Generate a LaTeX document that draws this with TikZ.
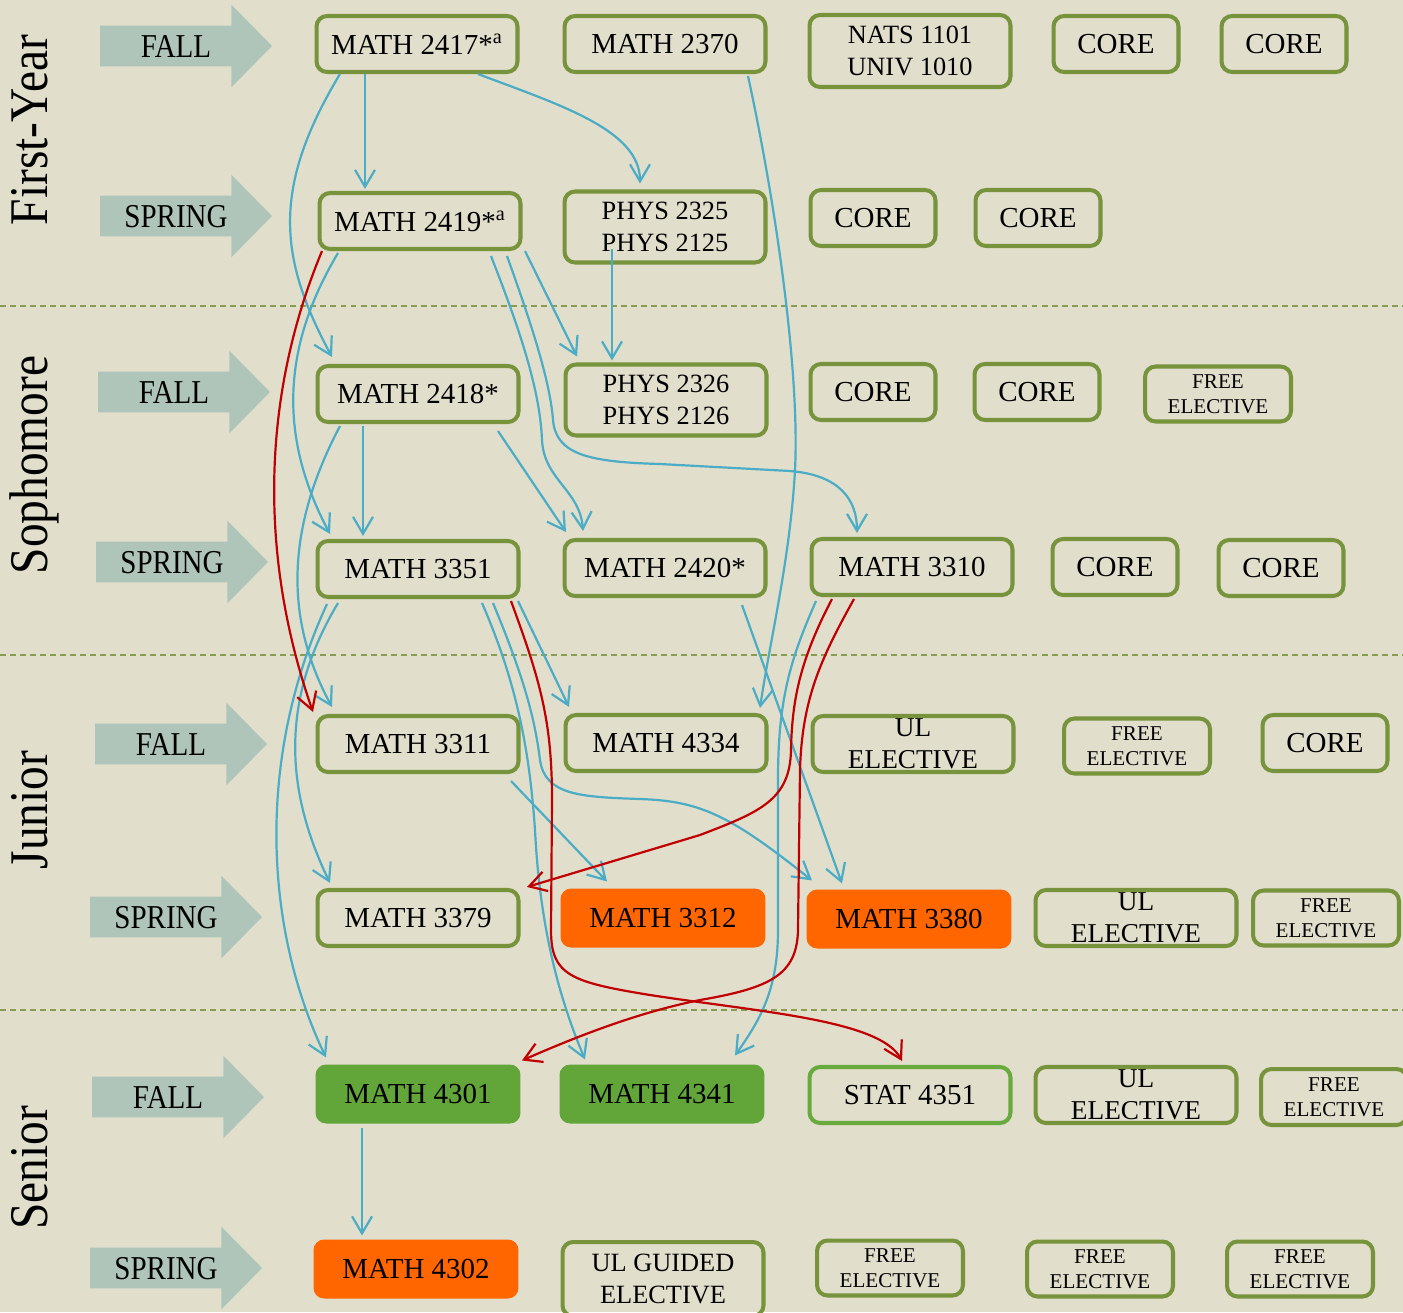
\documentclass[tikz,border=0pt]{standalone}
\usepackage{fontspec}
\setmainfont{Liberation Serif}
\newfontfamily\narrowfont[FakeStretch=0.87]{Liberation Serif}
\usetikzlibrary{shapes.arrows}
\usetikzlibrary{arrows.meta}
\usetikzlibrary{calc}

\definecolor{bgcream}{RGB}{225,222,204}
\definecolor{seasongray}{RGB}{175,197,186}
\definecolor{boxgreen}{RGB}{119,147,60}
\definecolor{lightgreen}{RGB}{104,170,62}
\definecolor{fillgreen}{RGB}{98,165,57}
\definecolor{fillorange}{RGB}{255,102,0}
\definecolor{preblue}{RGB}{75,172,198}
\definecolor{prered}{RGB}{192,0,0}

\tikzset{
  course/.style={draw=boxgreen, line width=2.3pt, rounded corners=6pt, minimum width=4.02cm, minimum height=1.12cm, inner sep=0pt, align=center, font=\fontsize{16.5}{18}\selectfont},
  core/.style={course, minimum width=2.5cm},
  free/.style={course, minimum width=2.92cm, minimum height=1.1cm, font=\fontsize{12}{14.2}\selectfont},
  ul/.style={course, font=\fontsize{15.5}{18.2}\selectfont},
  twoline/.style={course, minimum height=1.42cm, font=\fontsize{15}{18}\selectfont},
  hot/.style={course, draw=none, fill=fillorange, minimum width=4.1cm, minimum height=1.18cm},
  done/.style={course, draw=none, fill=fillgreen, minimum width=4.1cm, minimum height=1.18cm},
  season/.style={single arrow, fill=seasongray, single arrow head extend=0.42cm, single arrow tip angle=91, minimum height=3.44cm, text height=0.45cm, text depth=0cm, inner ysep=0.175cm, inner xsep=0pt, font=\narrowfont\fontsize{19}{19}\selectfont},
  year/.style={rotate=90, anchor=base, font=\narrowfont\fontsize{31}{31}\selectfont},
  term/.style={boxgreen!85!bgcream, line width=0.7pt, dash pattern=on 3.4pt off 2.3pt},
  pre/.style={draw=preblue, line width=1.25pt, -{Straight Barb[length=3.4mm,width=4mm]}},
  req/.style={pre, draw=prered}
}

\begin{document}
\begin{tikzpicture}[x=0.02cm, y=-0.02cm]
    \useasboundingbox (0,0) rectangle (1403,1312);
    \fill[bgcream] (0,0) rectangle (1403,1312);
    \clip (0,0) rectangle (1403,1312);
    \draw[term] (0,306) -- (1403,306);
    \draw[term] (0,655) -- (1403,655);
    \draw[term] (0,1010) -- (1403,1010);

    \node[year] (first) at (47,130) {First-Year};
    \node[year] (soph) at (47,465) {Sophomore};
    \node[year] (junior) at (47,810) {Junior};
    \node[year] (senior) at (47,1168) {Senior};

    \node[season] (fall1) at (176,46) {FALL};
    \node[season] (spring1) at (176,216) {SPRING};
    \node[season] (fall2) at (174,392) {FALL};
    \node[season] (spring2) at (172,562) {SPRING};
    \node[season] (fall3) at (171,744) {FALL};
    \node[season] (spring3) at (166,917) {SPRING};
    \node[season] (fall4) at (168,1097) {FALL};
    \node[season] (spring4) at (166,1268) {SPRING};

    \node[course] (m2417) at (417,44) {MATH 2417*\textsuperscript{a}};
    \node[course] (m2370) at (665,44) {MATH 2370};
    \node[twoline, minimum height=1.44cm] (nats) at (910,51) {NATS 1101\\UNIV 1010};
    \node[core] (core1) at (1116,44) {CORE};
    \node[core] (core2) at (1284,44) {CORE};

    \node[course] (m2419) at (420,221) {MATH 2419*\textsuperscript{a}};
    \node[twoline] (p2325) at (665,227) {PHYS 2325\\PHYS 2125};
    \node[core] (core3) at (873,218) {CORE};
    \node[core] (core4) at (1038,218) {CORE};

    \node[course] (m2418) at (418,394) {MATH 2418*};
    \node[twoline] (p2326) at (666,400) {PHYS 2326\\PHYS 2126};
    \node[core] (core5) at (873,392) {CORE};
    \node[core] (core6) at (1037,392) {CORE};
    \node[free] (free1) at (1218,394) {FREE\\ELECTIVE};

    \node[course] (m3351) at (418,569) {MATH 3351};
    \node[course] (m2420) at (665,568) {MATH 2420*};
    \node[course] (m3310) at (912,567) {MATH 3310};
    \node[core] (core7) at (1115,567) {CORE};
    \node[core] (core8) at (1281,568) {CORE};

    \node[course] (m3311) at (418,744) {MATH 3311};
    \node[course] (m4334) at (666,743) {MATH 4334};
    \node[ul] (ul1) at (913,744) {UL\\ELECTIVE};
    \node[free] (free2) at (1137,746) {FREE\\ELECTIVE};
    \node[core] (core9) at (1325,743) {CORE};

    \node[course] (m3379) at (418,918) {MATH 3379};
    \node[hot] (m3312) at (663,918) {MATH 3312};
    \node[hot] (m3380) at (909,919) {MATH 3380};
    \node[ul] (ul2) at (1136,918) {UL\\ELECTIVE};
    \node[free] (free3) at (1326,918) {FREE\\ELECTIVE};

    \node[done] (m4301) at (418,1094) {MATH 4301};
    \node[done] (m4341) at (662,1094) {MATH 4341};
    \node[course, draw=lightgreen] (s4351) at (910,1095) {STAT 4351};
    \node[ul] (ul3) at (1136,1095) {UL\\ELECTIVE};
    \node[free, minimum height=1.12cm] (free4) at (1334,1097) {FREE\\ELECTIVE};

    \node[hot] (m4302) at (416,1269) {MATH 4302};
    \node[twoline, minimum height=1.48cm] (ulg) at (663,1279) {UL GUIDED\\ELECTIVE};
    \node[free] (free5) at (890,1268) {FREE\\ELECTIVE};
    \node[free] (free6) at (1100,1269) {FREE\\ELECTIVE};
    \node[free] (free7) at (1300,1269) {FREE\\ELECTIVE};

    % prerequisites
    \draw[pre] ($(m2417.south)+(-52,0)$) -- ($(m2419.north)+(-55,-2)$);
    \draw[pre] ($(m2417.south)+(61,0)$) .. controls (560,105) and (640,130) .. ($(p2325.north)+(-25,-6)$);
    \draw[pre] ($(m2417.south)+(-77,0)$) .. controls (270,190) and (280,260) .. ($(m2418.north)+(-86,-7)$);
    \draw[pre] ($(m2370.south)+(83,2)$) .. controls (775,200) and (800,370) .. (795,470) .. controls (790,560) and (770,640) .. ($(m4334.north)+(94,-5)$);
    \draw[pre] ($(p2325.south)+(-53,-16)$) -- ($(p2326.north)+(-54,-2)$);
    \draw[pre] ($(m2419.south)+(105,0)$) -- ($(p2326.north)+(-89,-6)$);
    \draw[pre] ($(m2419.south)+(87,5)$) .. controls (530,320) and (550,380) .. (553,420) .. controls (556,455) and (590,462) .. (660,464) -- (790,471) .. controls (840,475) and (857,500) .. ($(m3310.north)+(-55,-4)$);
    \draw[pre] ($(m2419.south)+(71,5)$) .. controls (520,330) and (540,390) .. (542,440) .. controls (544,480) and (580,490) .. ($(m2420.north)+(-82,-7)$);
    \draw[pre] ($(m2419.south)+(-82,2)$) .. controls (280,350) and (280,440) .. ($(m3351.north)+(-88,-5)$);
    \draw[pre] ($(m2418.south)+(-55,2)$) -- ($(m3351.north)+(-55,-3)$);
    \draw[pre] ($(m2418.south)+(80,7)$) -- ($(m2420.north)+(-99,-6)$);
    \draw[pre] ($(m2418.south)+(-78,2)$) .. controls (285,530) and (285,620) .. ($(m3311.north)+(-86,-7)$);
    \draw[pre] ($(m3351.south)+(-80,4)$) .. controls (280,700) and (285,790) .. ($(m3379.north)+(-88,-5)$);
    \draw[pre] ($(m3351.south)+(-91,5)$) .. controls (255,760) and (265,930) .. ($(m4301.north)+(-92,-5)$);
    \draw[pre] ($(m3351.south)+(64,4)$) .. controls (520,690) and (530,760) .. (535,830) .. controls (540,930) and (560,1000) .. ($(m4341.north)+(-77,-3)$);
    \draw[pre] ($(m3351.south)+(75,4)$) .. controls (525,680) and (535,720) .. (540,760) .. controls (545,795) and (580,797) .. (640,799) .. controls (700,801) and (730,815) .. ($(m3380.north)+(-97,-7)$);
    \draw[pre] ($(m3351.south)+(100,2)$) -- ($(m4334.north)+(-97,-6)$);
    \draw[pre] ($(m3311.south)+(93,7)$) -- ($(m3312.north)+(-56,-5)$);
    \draw[pre] ($(m2420.south)+(77,7)$) -- ($(m3380.north)+(-67,-4)$);
    \draw[pre] ($(m3310.south)+(-96,4)$) .. controls (790,660) and (778,700) .. (778,780) -- (778,930) .. controls (778,990) and (760,1020) .. ($(m4341.north)+(73,-7)$);
    \draw[pre] ($(m4301.south)+(-56,2)$) -- ($(m4302.north)+(-54,-2)$);

    % required in sequence
    \draw[req] ($(m2419.south)+(-98,0)$) .. controls (260,400) and (260,560) .. ($(m3311.north)+(-105,-2)$);
    \draw[req] ($(m3310.south)+(-80,2)$) .. controls (800,660) and (792,700) .. (791,750) .. controls (790,800) and (760,812) .. (700,835) -- ($(m3379.north)+(109,-1)$);
    \draw[req] ($(m3310.south)+(-58,2)$) .. controls (820,660) and (802,700) .. (800,770) -- (798,930) .. controls (797,975) and (770,988) .. (700,1000) .. controls (640,1012) and (580,1035) .. ($(m4301.north)+(104,-2)$);
    \draw[req] ($(m3351.south)+(93,2)$) .. controls (540,680) and (552,720) .. (552,800) -- (551,930) .. controls (551,975) and (570,982) .. (650,995) .. controls (760,1012) and (880,1020) .. ($(s4351.north)+(-8,-4)$);
\end{tikzpicture}
\end{document}
